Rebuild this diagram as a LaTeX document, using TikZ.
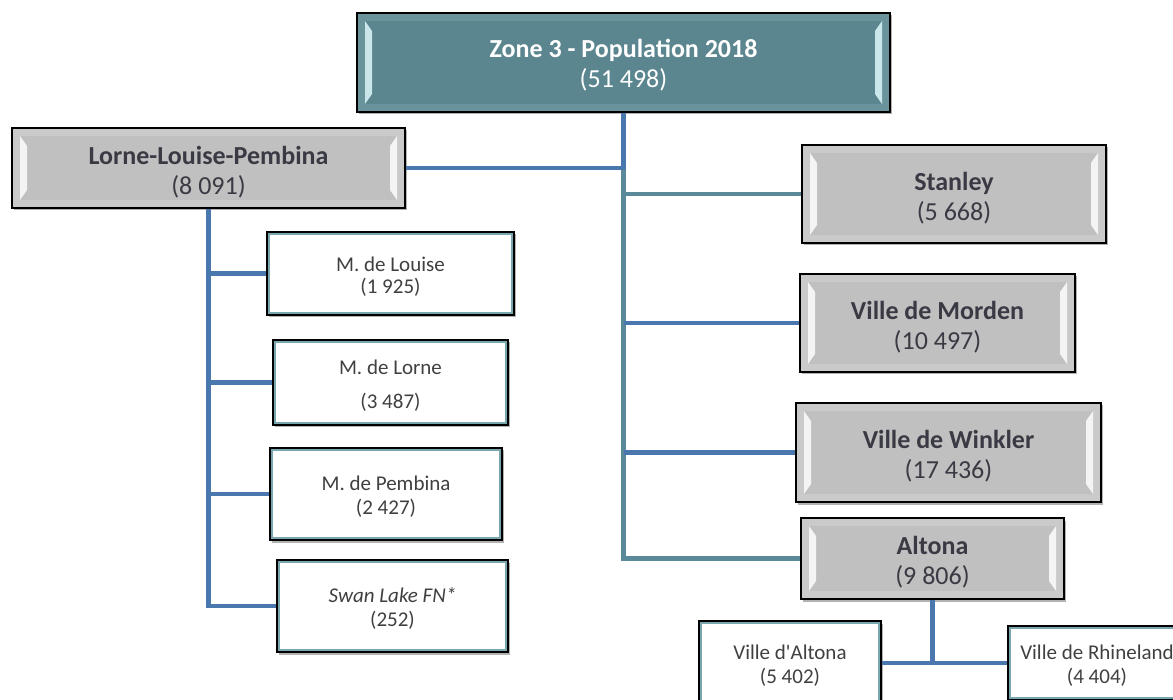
\documentclass[tikz,border=0pt]{standalone}
\usepackage{fontspec}
\setmainfont{Carlito}[Ligatures=TeXOff]
\usetikzlibrary{calc,shadows}
\definecolor{linkblue}{HTML}{4A78AE}
\definecolor{linkteal}{HTML}{5A8A9A}
\definecolor{topfill}{HTML}{5B868F}
\definecolor{topband}{HTML}{6A949C}
\definecolor{topside}{HTML}{C9E6EA}
\definecolor{grayfill}{HTML}{C0C0C0}
\definecolor{grayband}{HTML}{CACACA}
\definecolor{grayside}{HTML}{F4F4F4}
\definecolor{graytext}{HTML}{3A3A44}
\definecolor{whiteinner}{HTML}{7AA6B0}
\definecolor{whitetext}{HTML}{404040}
\newcommand{\gstrut}{\rule{0pt}{26pt}}
\newcommand{\tstrutz}{\rule{0pt}{23pt}}
\newcommand{\wstrut}{\rule{0pt}{20pt}}
\tikzset{
  bevel/.style 2 args={path picture={
    \coordinate (bnw) at (path picture bounding box.north west);
    \coordinate (bse) at (path picture bounding box.south east);
    \coordinate (bne) at (path picture bounding box.north east);
    \coordinate (bsw) at (path picture bounding box.south west);
    \draw[#1, line width=8pt] ($(bnw)+(4pt,-4pt)$) rectangle ($(bse)+(-4pt,4pt)$);
    \fill[#2] ($(bnw)+(8pt,-8pt)$) -- ($(bnw)+(15pt,-18pt)$) -- ($(bsw)+(15pt,18pt)$) -- ($(bsw)+(8pt,8pt)$) -- cycle;
    \fill[#2] ($(bne)+(-8pt,-8pt)$) -- ($(bne)+(-15pt,-18pt)$) -- ($(bse)+(-15pt,18pt)$) -- ($(bse)+(-8pt,8pt)$) -- cycle;
  }},
  innerline/.style={path picture={
    \draw[whiteinner, line width=1.6pt] ($(path picture bounding box.north west)+(2.2pt,-2.2pt)$) rectangle ($(path picture bounding box.south east)+(-2.2pt,2.2pt)$);
  }},
  boxshadow/.style={drop shadow={shadow xshift=2pt, shadow yshift=-2.5pt, fill=black, opacity=0.3}},
  topbox/.style={draw=black, line width=1.3pt, fill=topfill, text=white, bevel={topband}{topside},
    boxshadow, font=\fontsize{26}{30}\selectfont, align=center, inner sep=0pt},
  graybox/.style={draw=black, line width=1.3pt, fill=grayfill, text=graytext, bevel={grayband}{grayside},
    boxshadow, font=\fontsize{26}{30}\selectfont, align=center, inner sep=0pt},
  whitebox/.style={draw=black, line width=1.4pt, fill=white, text=whitetext, innerline,
    boxshadow, font=\fontsize{21}{24}\selectfont, align=center, inner sep=0pt},
  blueline/.style={draw=linkblue, line width=4.6pt, line join=miter},
  tealline/.style={draw=linkteal, line width=4.6pt, line join=miter}
}
\begin{document}
\begin{tikzpicture}[x=1pt,y=-1pt]
\useasboundingbox[fill=white] (0,0) rectangle (1173,700);

\node[topbox, minimum width=533pt, minimum height=99pt] (zone) at (623.5,62.5)
  {\tstrutz\textbf{Zone 3 - Population 2018}\\(51 498)};
\node[graybox, minimum width=393pt, minimum height=80pt] (llp) at (208.5,168)
  {\gstrut\textbf{Lorne-Louise-Pembina}\\(8 091)};
\node[whitebox, minimum width=247pt, minimum height=83pt] (louise) at (390.5,273.5)
  {\wstrut M. de Louise\\[-2pt](1 925)};
\node[whitebox, minimum width=235pt, minimum height=85pt] (lorne) at (390.5,382.5)
  {\wstrut M. de Lorne\\[10pt](3 487)};
\node[whitebox, minimum width=232pt, minimum height=92pt] (pembina) at (386,494)
  {\wstrut M. de Pembina\\(2 427)};
\node[whitebox, minimum width=231pt, minimum height=92pt] (swan) at (392.5,606)
  {\wstrut\textit{Swan Lake FN*}\\(252)};
\node[graybox, minimum width=304pt, minimum height=98pt] (stanley) at (954,194)
  {\gstrut\textbf{Stanley}\\(5 668)};
\node[graybox, minimum width=275pt, minimum height=98pt] (morden) at (937.5,323)
  {\gstrut\textbf{Ville de Morden}\\(10 497)};
\node[graybox, minimum width=305pt, minimum height=99pt] (winkler) at (948.5,452.5)
  {\gstrut\textbf{Ville de Winkler}\\(17 436)};
\node[graybox, minimum width=263pt, minimum height=81pt] (altona) at (932.5,558.5)
  {\gstrut\textbf{Altona}\\(9 806)};
\node[whitebox, minimum width=182pt, minimum height=84pt] (valtona) at (790,663)
  {\wstrut Ville d'Altona\\(5 402)};
\node[whitebox, minimum width=178pt, minimum height=74pt] (rhine) at (1097,663)
  {\wstrut Ville de Rhineland\\(4 404)};

% connectors
\draw[tealline] (zone.south |- llp.east) -- (zone.south |- altona.west) -- (altona.west);
\draw[tealline] (zone.south |- stanley.west) -- (stanley.west);
\draw[blueline] (zone.south |- morden.west) -- (morden.west);
\draw[blueline] (zone.south |- winkler.west) -- (winkler.west);
\draw[blueline] (zone.south) -- (zone.south |- llp.east) -- (llp.east);

\draw[blueline] (llp.south) -- (llp.south |- swan.west) -- (swan.west);
\draw[blueline] (llp.south |- louise.west) -- (louise.west);
\draw[blueline] (llp.south |- lorne.west) -- (lorne.west);
\draw[blueline] (llp.south |- pembina.west) -- (pembina.west);

\draw[blueline] (valtona.east) -- (rhine.west);
\draw[blueline] (altona.south) -- (altona.south |- valtona.east);
\end{tikzpicture}
\end{document}
